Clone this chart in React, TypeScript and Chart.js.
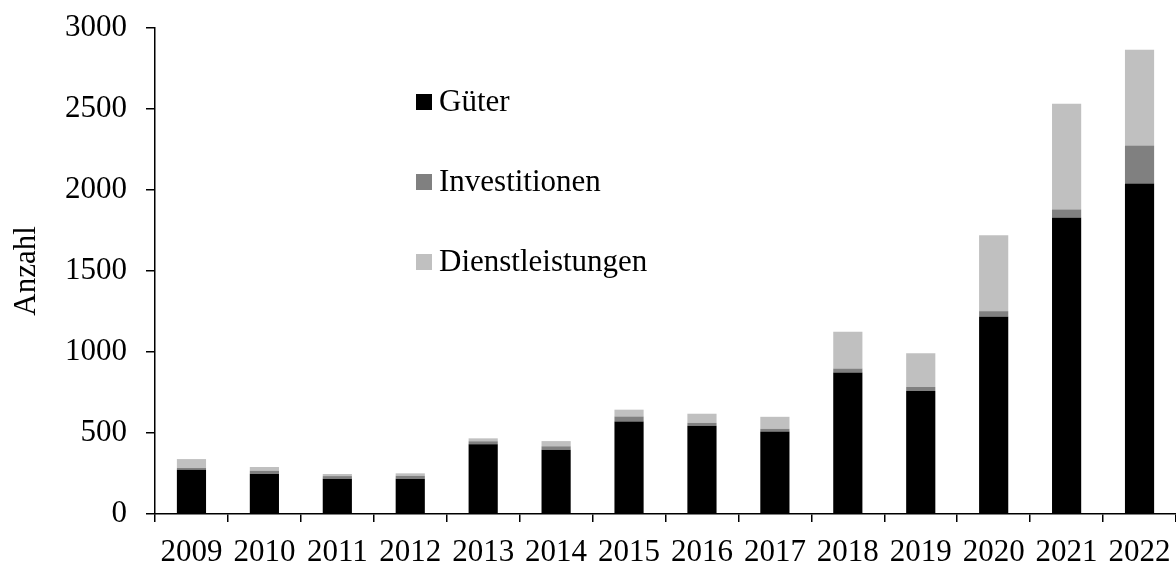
import React, { useEffect, useRef } from "react";
import { Chart, registerables } from "chart.js";

Chart.register(...registerables);

const years = ["2009", "2010", "2011", "2012", "2013", "2014", "2015", "2016", "2017", "2018", "2019", "2020", "2021", "2022"];
const gueter = [273, 249, 218, 218, 430, 397, 571, 545, 510, 874, 759, 1217, 1828, 2040];
const investitionen = [11, 18, 16, 18, 19, 21, 31, 18, 16, 24, 25, 35, 52, 235];
const dienstleistungen = [55, 23, 13, 15, 18, 32, 42, 56, 74, 227, 209, 469, 652, 590];
const seriesLabels = ["Güter", "Investitionen", "Dienstleistungen"];
const seriesColors = ["#000000", "#808080", "#c0c0c0"];
const yMax = 3000;
const yStep = 500;
const yTitle = "Anzahl";

const FONT = '"Liberation Serif", "Times New Roman", serif';

const insideLegend = {
  id: "insideLegend",
  afterDraw(chart: any) {
    const ctx = chart.ctx;
    ctx.save();
    ctx.font = `31px ${FONT}`;
    ctx.textBaseline = "middle";
    ctx.textAlign = "left";
    chart.data.datasets.forEach((ds: any, i: number) => {
      const y = 102 + i * 80;
      ctx.fillStyle = ds.backgroundColor;
      ctx.fillRect(416, y - 8, 16, 16);
      ctx.fillStyle = "#000";
      ctx.fillText(ds.label, 439, y + 1);
    });
    ctx.restore();
  },
};

export default function App() {
  const ref = useRef<HTMLCanvasElement | null>(null);
  useEffect(() => {
    document.body.style.margin = "0";
    const values = [gueter, investitionen, dienstleistungen];
    const chart = new Chart(ref.current as HTMLCanvasElement, {
      type: "bar",
      data: {
        labels: years,
        datasets: values.map((v, i) => ({
          label: seriesLabels[i],
          data: v,
          backgroundColor: seriesColors[i],
          borderWidth: 0,
          categoryPercentage: 1,
          barPercentage: 0.4,
        })),
      },
      plugins: [insideLegend],
      options: {
        animation: false,
        responsive: true,
        maintainAspectRatio: false,
        layout: { padding: { top: 28, right: 0, left: 0, bottom: 0 } },
        plugins: { legend: { display: false }, tooltip: { enabled: false } },
        scales: {
          x: {
            stacked: true,
            grid: { display: true, drawOnChartArea: false, drawTicks: true, tickLength: 8, color: "#000", lineWidth: 1.5 },
            border: { display: true, color: "#000", width: 1.5 },
            ticks: { color: "#000", font: { family: FONT, size: 31 }, padding: 12, maxRotation: 0, autoSkip: false },
            afterFit(scale: any) {
              scale.height = 53;
              scale.paddingLeft = 0;
              scale.paddingRight = 0;
            },
          },
          y: {
            stacked: true,
            min: 0,
            max: yMax,
            grid: { display: true, drawOnChartArea: false, drawTicks: true, tickLength: 9, color: "#000", lineWidth: 1.5 },
            border: { display: true, color: "#000", width: 1.5 },
            ticks: {
              stepSize: yStep,
              color: "#000",
              font: { family: FONT, size: 31 },
              padding: 19,
              callback: (v: any) => String(v),
            },
            title: { display: true, text: yTitle, color: "#000", font: { family: FONT, size: 31 }, padding: { top: 8, bottom: 0 } },
            afterFit(scale: any) {
              scale.width = 155;
              scale.paddingTop = 0;
              scale.paddingBottom = 0;
            },
          },
        },
      },
    });
    return () => chart.destroy();
  }, []);
  return (
    <div style={{ position: "relative", width: "1176px", height: "567px" }}>
      <canvas ref={ref} />
    </div>
  );
}
